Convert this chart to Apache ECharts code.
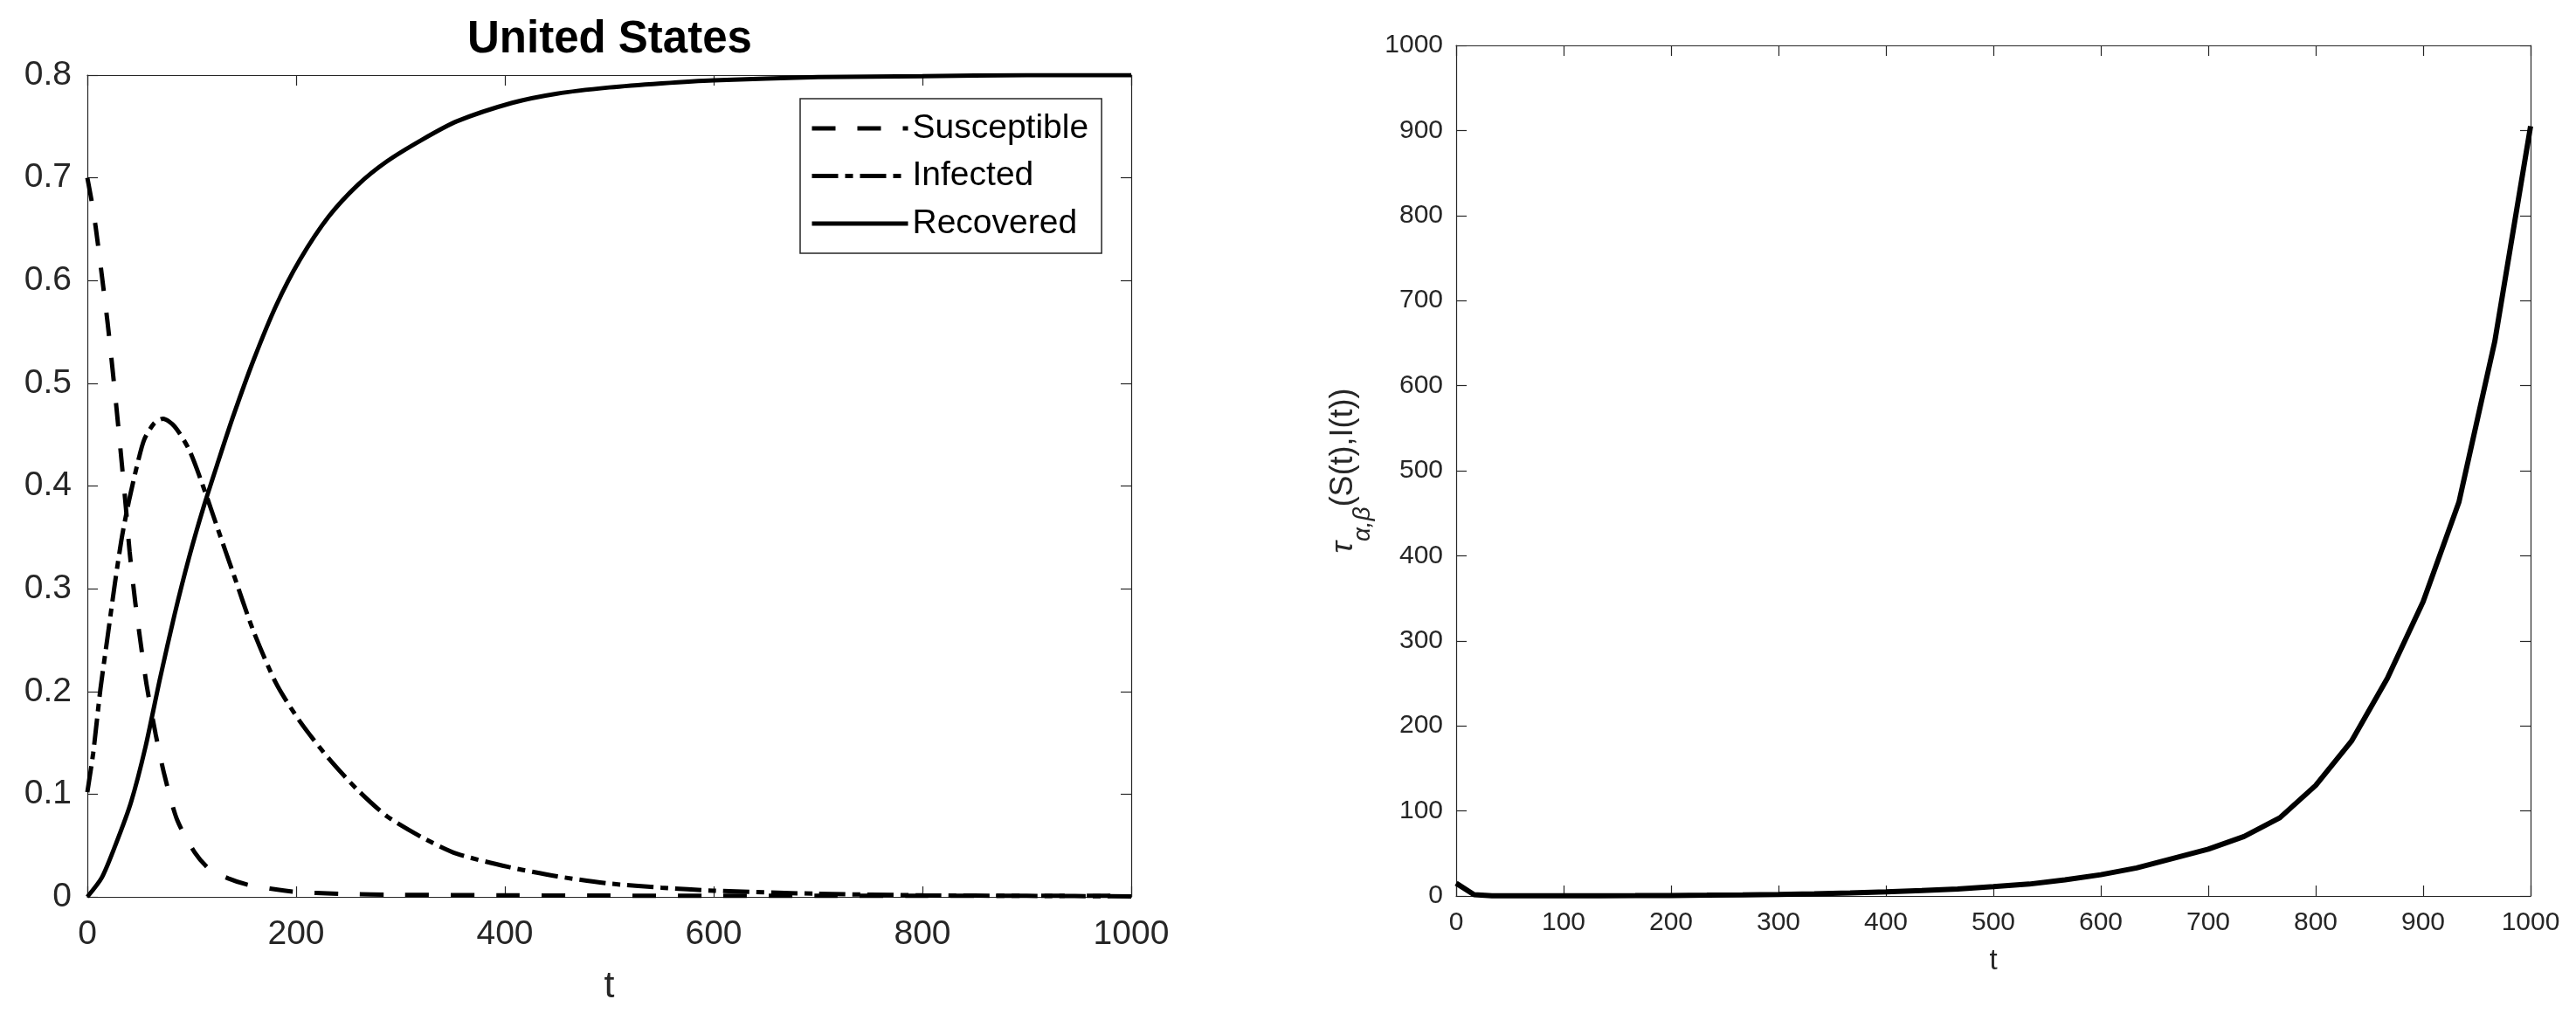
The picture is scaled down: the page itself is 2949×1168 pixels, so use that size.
<!DOCTYPE html>
<html>
<head>
<meta charset="utf-8">
<title>United States SIR</title>
<script src="https://cdn.jsdelivr.net/npm/echarts/dist/echarts.min.js"></script>
<style>
  html, body { margin: 0; padding: 0; background: #fff; }
  #chart { width: 2949px; height: 1168px; }
</style>
</head>
<body>
<div id="chart"></div>
<script>
// values
const susT = [0, 4, 8, 14, 19.5, 24, 28, 33, 37, 40.5, 46, 51.5, 57, 65.5, 74, 86, 103, 117, 135, 153, 175, 197, 242, 300, 400, 500, 600, 700, 800, 900, 1000];
const susV = [0.700, 0.678, 0.652, 0.604, 0.558, 0.515, 0.475, 0.422, 0.378, 0.336, 0.286, 0.244, 0.205, 0.158, 0.118, 0.075, 0.043, 0.027, 0.018, 0.012, 0.008, 0.005, 0.003, 0.002, 0.0015, 0.0012, 0.001, 0.001, 0.001, 0.001, 0.001];

const infT = [0, 5.6, 12.5, 19.5, 26.5, 33.4, 40.4, 47.4, 54.4, 64, 72.5, 83.6, 97.6, 111.5, 125.4, 139.4, 159, 181, 203.5, 231, 259, 287, 320.5, 354, 404, 450, 500, 550, 600, 700, 800, 900, 1000];
const infV = [0.102, 0.14, 0.202, 0.254, 0.306, 0.352, 0.388, 0.419, 0.445, 0.461, 0.4655, 0.458, 0.435, 0.398, 0.357, 0.316, 0.259, 0.2075, 0.171, 0.135, 0.104, 0.0785, 0.058, 0.042, 0.029, 0.02, 0.013, 0.009, 0.006, 0.003, 0.0015, 0.001, 0.0005];

const recT = [0, 14, 27.9, 41.8, 55.7, 69.7, 83.6, 97.6, 111.5, 125.4, 139.4, 159, 181, 203.5, 231, 259, 287, 320.5, 354, 407, 450, 500, 550, 600, 700, 800, 900, 1000];
const recV = [0, 0.019, 0.053, 0.092, 0.146, 0.213, 0.275, 0.331, 0.38, 0.424, 0.467, 0.522, 0.576, 0.62, 0.662, 0.693, 0.716, 0.737, 0.755, 0.773, 0.782, 0.788, 0.792, 0.795, 0.798, 0.799, 0.8, 0.8];

const tauT = [0, 16.7, 33.3, 66.7, 100, 133.3, 166.7, 200, 233.3, 266.7, 300, 333.3, 366.7, 400, 433.3, 466.7, 500, 533.3, 566.7, 600, 633.3, 666.7, 700, 733.3, 766.7, 800, 833.3, 866.7, 900, 933.3, 966.7, 1000];
const tauV = [15, 1.5, 0.3, 0.2, 0.25, 0.3, 0.4, 0.6, 0.9, 1.3, 1.9, 2.6, 3.6, 5, 6.5, 8.3, 11, 14, 19, 25, 33, 44, 55, 70, 92, 130, 182, 256, 346, 463, 652, 905];

const seriesNames = ["Susceptible", "Infected", "Recovered"];
const dashS = [27, 25];
const dashI = [30, 8, 9, 8];

const zip = (xs, ys) => xs.map((x, i) => [x, ys[i]]);

const FONT = "Liberation Sans, Arial, Helvetica, sans-serif";
const AXIS_COLOR = "#262626";

const chart = echarts.init(document.getElementById("chart"));

const plain = (v) => String(Number(v.toFixed(2)));

const baseAxis = (extra) => Object.assign({
  type: "value",
  splitLine: { show: false },
  axisLine: { show: true, onZero: false, lineStyle: { color: AXIS_COLOR, width: 1.2 } },
  axisTick: { show: true, inside: true, length: 12, lineStyle: { color: AXIS_COLOR, width: 1.2 } },
}, extra);

const mirror = (gridIndex, position, min, max, interval) => baseAxis({
  gridIndex, position, min, max, interval,
  axisLabel: { show: false },
});

const option = {
  animation: false,
  backgroundColor: "#fff",
  textStyle: { fontFamily: FONT },
  title: {
    text: "United States",
    left: 530,
    top: 15,
    textStyle: { fontSize: 51, fontWeight: "bold", color: "#000", fontFamily: FONT },
  },
  legend: {
    show: true,
    orient: "vertical",
    left: 916,
    top: 113,
    padding: [12, 15, 12, 11],
    itemWidth: 110,
    itemHeight: 14,
    itemGap: 10.5,
    borderColor: AXIS_COLOR,
    borderWidth: 1.5,
    backgroundColor: "#fff",
    lineStyle: { width: 5 },
    itemStyle: { color: "rgba(0,0,0,0)", borderWidth: 0 },
    textStyle: { fontSize: 39, color: "#000", lineHeight: 44, fontFamily: FONT },
    data: seriesNames,
  },
  grid: [
    { left: 100, top: 86, width: 1195, height: 941 },
    { left: 1667, top: 52, width: 1230, height: 974 },
  ],
  xAxis: [
    baseAxis({
      gridIndex: 0, position: "bottom", min: 0, max: 1000, interval: 200,
      axisLabel: { fontSize: 39, color: AXIS_COLOR, margin: 24, fontFamily: FONT, formatter: plain },
      name: "t", nameLocation: "middle", nameGap: 82,
      nameTextStyle: { fontSize: 43, color: AXIS_COLOR, fontFamily: FONT },
    }),
    mirror(0, "top", 0, 1000, 200),
    baseAxis({
      gridIndex: 1, position: "bottom", min: 0, max: 1000, interval: 100,
      axisLabel: { fontSize: 30, color: AXIS_COLOR, margin: 16, fontFamily: FONT, formatter: plain },
      name: "t", nameLocation: "middle", nameGap: 58,
      nameTextStyle: { fontSize: 33, color: AXIS_COLOR, fontFamily: FONT },
    }),
    mirror(1, "top", 0, 1000, 100),
  ],
  yAxis: [
    baseAxis({
      gridIndex: 0, position: "left", min: 0, max: 0.8, interval: 0.1,
      axisLabel: { fontSize: 39, color: AXIS_COLOR, margin: 18, fontFamily: FONT, formatter: plain },
    }),
    mirror(0, "right", 0, 0.8, 0.1),
    baseAxis({
      gridIndex: 1, position: "left", min: 0, max: 1000, interval: 100,
      axisLabel: { fontSize: 30, color: AXIS_COLOR, margin: 15, fontFamily: FONT, formatter: plain },
      name: "{tau|τ}{sub|α,β}{main|(S(t),I(t))}",
      nameLocation: "middle",
      nameGap: 93,
      nameTextStyle: {
        color: AXIS_COLOR,
        fontFamily: FONT,
        rich: {
          tau: { fontSize: 36, fontStyle: "italic", lineHeight: 40, verticalAlign: "middle", color: AXIS_COLOR, fontFamily: FONT },
          sub: { fontSize: 28, fontStyle: "italic", lineHeight: 72, verticalAlign: "bottom", color: AXIS_COLOR, fontFamily: FONT },
          main: { fontSize: 36, lineHeight: 40, verticalAlign: "middle", color: AXIS_COLOR, fontFamily: FONT },
        },
      },
    }),
    mirror(1, "right", 0, 1000, 100),
  ],
  series: [
    {
      name: seriesNames[0], type: "line", xAxisIndex: 0, yAxisIndex: 0,
      data: zip(susT, susV), symbol: "none", smooth: 0.25,
      lineStyle: { color: "#000", width: 5, type: dashS },
      itemStyle: { color: "#000" }, z: 3,
    },
    {
      name: seriesNames[1], type: "line", xAxisIndex: 0, yAxisIndex: 0,
      data: zip(infT, infV), symbol: "none", smooth: 0.25,
      lineStyle: { color: "#000", width: 5, type: dashI },
      itemStyle: { color: "#000" }, z: 3,
    },
    {
      name: seriesNames[2], type: "line", xAxisIndex: 0, yAxisIndex: 0,
      data: zip(recT, recV), symbol: "none", smooth: 0.25,
      lineStyle: { color: "#000", width: 5 },
      itemStyle: { color: "#000" }, z: 3,
    },
    {
      name: "tau", type: "line", xAxisIndex: 2, yAxisIndex: 2,
      data: zip(tauT, tauV), symbol: "none",
      lineStyle: { color: "#000", width: 6 },
      itemStyle: { color: "#000" },
    },
  ],
};

chart.setOption(option);
window.addEventListener("resize", () => chart.resize());
</script>
</body>
</html>
